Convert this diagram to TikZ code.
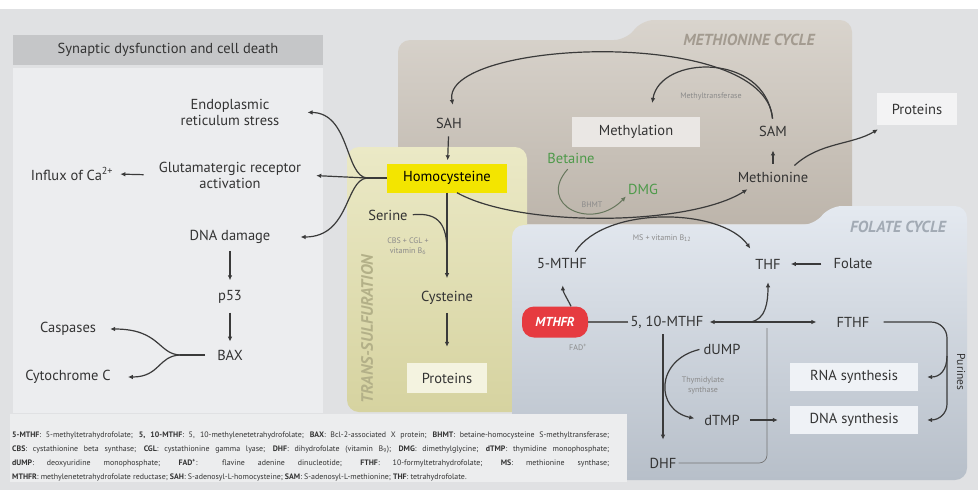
\documentclass[tikz,border=0pt]{standalone}
\usepackage{fontspec}
\setmainfont{PT Sans}
\usetikzlibrary{arrows.meta}
\definecolor{bgc}{HTML}{E0E1E3}
\definecolor{panelc}{HTML}{ECEDEF}
\definecolor{headc}{HTML}{C5C6C8}
\definecolor{metTop}{HTML}{D9D4CD}
\definecolor{metBot}{HTML}{BDB5AB}
\definecolor{trTop}{HTML}{EBE9C6}
\definecolor{trBot}{HTML}{D6D3A0}
\definecolor{folTop}{HTML}{E4E9F0}
\definecolor{folBot}{HTML}{B7BFC9}
\definecolor{linec}{HTML}{3A3A3A}
\definecolor{textc}{HTML}{333333}
\definecolor{smallc}{HTML}{8A8A8A}
\definecolor{hcyc}{HTML}{F3E500}
\definecolor{greenc}{HTML}{4E9A4A}
\definecolor{greenl}{HTML}{66765C}
\definecolor{redc}{HTML}{E63B40}
\definecolor{metTitle}{HTML}{A39B90}
\definecolor{folTitle}{HTML}{A2AAB4}
\definecolor{trTitle}{HTML}{B3B088}
\newcommand{\fullline}[1]{\makebox[597pt][s]{#1}}
\begin{document}
\begin{tikzpicture}[x=1pt,y=-1pt,
  txt/.style={font=\fontsize{14.5}{16}\selectfont, text=textc, inner sep=2pt, align=center},
  small/.style={font=\fontsize{8}{10}\selectfont, text=smallc, inner sep=1pt, align=center},
  boxn/.style={txt, fill=#1, minimum height=29pt},
  line/.style={draw=linec, line width=1.2pt},
  arr/.style={line, -{Latex[length=5pt,width=4.6pt]}},
  darr/.style={line, {Latex[length=5pt,width=4.6pt]}-{Latex[length=5pt,width=4.6pt]}},
  thinline/.style={draw=linec!70, line width=0.7pt},
  title/.style={font=\fontsize{16}{18}\selectfont\bfseries\itshape, inner sep=0pt},
  abbrline/.style={inner sep=0pt, anchor=base west, font=\fontsize{7.9}{10}\selectfont, text=textc}
]
\useasboundingbox (0,0) rectangle (978,499);
% page background
\fill[white] (0,0) rectangle (978,499);
\fill[bgc] (0,9) rectangle (978,490);

% left panel
\fill[headc] (13,35) rectangle (323,65);
\fill[panelc] (13,68) rectangle (323,413);
\node[txt] (head) at (168,50) {Synaptic dysfunction and cell death};

% methionine cycle area
\path[top color=metTop, bottom color=metBot, rounded corners=12]
  (398,224) -- (398,40) -- (626,40) -- (642,20) -- (852,20) -- (852,224) -- cycle;
\node[title, text=metTitle] (mettitle) at (749,40) {METHIONINE CYCLE};

% trans-sulfuration area
\path[top color=trTop, bottom color=trBot, rounded corners=12]
  (347,147) rectangle (527,412);
\node[title, text=trTitle, rotate=90, font=\fontsize{16.5}{18}\selectfont\bfseries\itshape] (trtitle) at (367,329) {TRANS-SULFURATION};

% folate cycle area
\path[top color=folTop, bottom color=folBot, rounded corners=12]
  (512,480) -- (512,225) -- (814,225) -- (830,206) -- (967,206) -- (967,480) -- cycle;
\node[title, text=folTitle] (foltitle) at (898,227) {FOLATE CYCLE};

% abbreviations panel, one justified line per node
\fill[bgc!60!white] (10,414) rectangle (627,482);
\node[abbrline] (abbr1) at (12,437) {\fullline{\textbf{5-MTHF}: 5-methyltetrahydrofolate; \textbf{5, 10-MTHF}: 5, 10-methylenetetrahydrofolate; \textbf{BAX}: Bcl-2-associated X protein; \textbf{BHMT}: betaine-homocysteine S-methyltransferase;}};
\node[abbrline] (abbr2) at (12,451) {\fullline{\textbf{CBS}: cystathionine beta synthase; \textbf{CGL}: cystathionine gamma lyase; \textbf{DHF}: dihydrofolate (vitamin B\textsubscript{9}); \textbf{DMG}: dimethylglycine; \textbf{dTMP}: thymidine monophosphate;}};
\node[abbrline] (abbr3) at (12,465) {\fullline{\textbf{dUMP}: deoxyuridine monophosphate; \textbf{FAD\textsuperscript{+}}: flavine adenine dinucleotide; \textbf{FTHF}: 10-formyltetrahydrofolate; \textbf{MS}: methionine synthase;}};
\node[abbrline] (abbr4) at (12,479) {\textbf{MTHFR}: methylenetetrahydrofolate reductase; \textbf{SAH}: S-adenosyl-L-homocysteine; \textbf{SAM}: S-adenosyl-L-methionine; \textbf{THF}: tetrahydrofolate.};

% ---- left panel nodes
\node[txt] (er) at (230,112) {Endoplasmic\\reticulum stress};
\node[txt] (glu) at (230,175) {Glutamatergic receptor\\activation};
\node[txt] (ca) at (72,174) {Influx of Ca\textsuperscript{2+}};
\node[txt] (dna) at (230,237) {DNA damage};
\node[txt] (p53) at (230,297) {p53};
\node[txt] (bax) at (230,355) {BAX};
\node[txt] (casp) at (68,329) {Caspases};
\node[txt] (cytc) at (68,377) {Cytochrome C};

% ---- methionine cycle nodes
\node[txt] (sah) at (449,123) {SAH};
\node[boxn=hcyc, minimum width=120pt, text=black] (hcy) at (447,178) {Homocysteine};
\node[boxn=metTop!55!white, minimum width=128pt, minimum height=30pt] (methyl) at (636,132) {Methylation};
\node[txt] (sam) at (773,131) {SAM};
\node[txt] (met) at (773,177) {Methionine};
\node[boxn=bgc!40!white, minimum width=80pt, minimum height=32pt] (prot1) at (917,109) {Proteins};
\node[txt, text=greenc] (betaine) at (571,158) {Betaine};
\node[txt, text=greenc] (dmg) at (643,189) {DMG};
\node[small] (mtl) at (711,96) {Methyltransferase};
\node[small] (bhmt) at (592,205) {BHMT};
\node[small] (msl) at (662,238) {MS + vitamin B\textsubscript{12}};

% ---- trans-sulfuration nodes
\node[txt] (serine) at (388,215) {Serine};
\node[small] (cbs) at (408,246) {CBS + CGL +\\vitamin B\textsubscript{6}};
\node[txt] (cys) at (447,298) {Cysteine};
\node[boxn=trTop!55!white, minimum width=80pt, minimum height=30pt] (prot2) at (447,378) {Proteins};
\coordinate (sjoin) at (447,252);

% ---- folate cycle nodes
\node[txt] (mthf5) at (562,264) {5-MTHF};
\node[txt] (thf) at (768,264) {THF};
\node[txt] (folate) at (853,264) {Folate};
\node[fill=redc, rounded corners=12, minimum width=66pt, minimum height=31pt, text=white,
      font=\fontsize{13}{15}\selectfont\bfseries\itshape, inner sep=1pt] (mthfr) at (555,322) {MTHFR};
\node[small] (fad) at (578,347) {FAD\textsuperscript{+}};
\node[txt] (mthf510) at (667,322) {5, 10-MTHF};
\node[txt] (fthf) at (853,322) {FTHF};
\node[txt] (dump) at (722,349) {dUMP};
\node[txt] (dtmp) at (722,420) {dTMP};
\node[txt] (dhf) at (663,463) {DHF};
\node[small] (ts) at (703,385) {Thymidylate\\synthase};
\node[boxn=folTop!60!white, minimum width=128pt, minimum height=28pt] (rna) at (854,377) {RNA synthesis};
\node[boxn=folTop!60!white, minimum width=128pt, minimum height=28pt] (dnas) at (854,420) {DNA synthesis};
\node[txt, rotate=-90, font=\fontsize{11.5}{13}\selectfont] (pur) at (961,372) {Purines};
\coordinate (hfork) at (367,178);
\coordinate (bfork) at (180,355);
\coordinate (tb) at (750,322);
\coordinate (pj) at (947,356);
\coordinate (dhfup) at (767,328);

% ---- connectors: left panel
\draw[line] (hcy.west) -- (hfork);
\draw[arr, shorten >=26pt] (hfork) .. controls (345,176) and (350,113) .. (er.east);
\draw[arr, shorten >=13pt] (hfork) -- (glu.east);
\draw[arr, shorten >=28pt] (hfork) .. controls (345,180) and (350,237) .. (dna.east);
\draw[arr, shorten <=13pt, shorten >=5pt] (glu.west) -- (ca.east);
\draw[arr, shorten <=5pt, shorten >=8pt] (dna) -- (p53);
\draw[arr, shorten <=7pt, shorten >=6pt] (p53) -- (bax);
\draw[line, shorten <=10pt] (bax.west) -- (bfork);
\draw[arr, shorten >=12pt] (bfork) .. controls (158,354) and (160,329) .. (casp.east);
\draw[arr, shorten >=15pt] (bfork) .. controls (158,356) and (160,377) .. (cytc.east);

% ---- connectors: methionine cycle
\draw[arr, shorten <=5pt, shorten >=11pt] (sam.north) .. controls (765,25) and (440,40) .. ([xshift=6pt]sah.north);
\draw[arr, shorten <=5pt, shorten >=14pt] (sam.north) .. controls (765,52) and (660,55) .. ([xshift=14pt]methyl.north);
\draw[arr, shorten <=6pt, shorten >=3pt] (sah) -- (hcy);
\draw[arr, shorten <=6pt, shorten >=12pt] (met) -- (sam);
\draw[arr, shorten >=9pt] ([xshift=10pt]hcy.south) .. controls (520,228) and (690,226) .. ([xshift=-18pt]met.south);
\draw[arr, shorten <=6pt, shorten >=10pt] ([xshift=10pt]mthf5.north) .. controls (606,205) and (722,208) .. ([xshift=-12pt]thf.north);
\draw[arr, draw=greenl, line width=1pt, shorten <=5pt] (betaine.south) .. controls (536,205) and (592,232) .. (dmg.south west);
\draw[arr, shorten <=6pt, shorten >=8pt] ([xshift=17pt]met.north) .. controls (820,142) and (852,145) .. ([xshift=8pt]prot1.south west);

% ---- connectors: trans-sulfuration
\draw[arr, shorten >=11pt] (hcy) -- (cys);
\draw[line, shorten <=3pt] (serine.east) .. controls (440,212) and (447,226) .. (sjoin);
\draw[arr, shorten <=6pt, shorten >=16pt] (cys) -- (prot2);

% ---- connectors: folate cycle
\draw[arr, shorten <=10pt, shorten >=8pt] (folate) -- (thf);
\draw[darr, shorten <=4pt, shorten >=18pt] (mthf510.east) -- (fthf.west);
\draw[arr, shorten >=11pt] (tb) .. controls (766,320) and (768,302) .. (thf.south);
\draw[line, draw=linec!80] (mthf510.west) -- (mthfr.east);
\draw[arr, shorten >=14pt] ([xshift=16pt]mthfr.north) .. controls (568,300) and (563,292) .. (mthf5.south);
\draw[arr, shorten <=4pt, shorten >=16pt] (mthf510.south -| dhf.north) -- (dhf.north);
\draw[thinline, rounded corners=8] (dhf.east) -| (dhfup);
\draw[arr, shorten <=2pt, shorten >=8pt] (dump.west) .. controls (655,360) and (655,410) .. (dtmp.west);
\draw[arr, shorten <=8pt, shorten >=12pt] (dtmp) -- (dnas);
\draw[arr, rounded corners=16, shorten <=12pt, shorten >=9pt] (fthf.east) -| (947,420) -- (dnas.east);
\draw[arr, shorten >=9pt] (pj) .. controls (947,370) and (940,377) .. (rna.east);
\end{tikzpicture}
\end{document}
